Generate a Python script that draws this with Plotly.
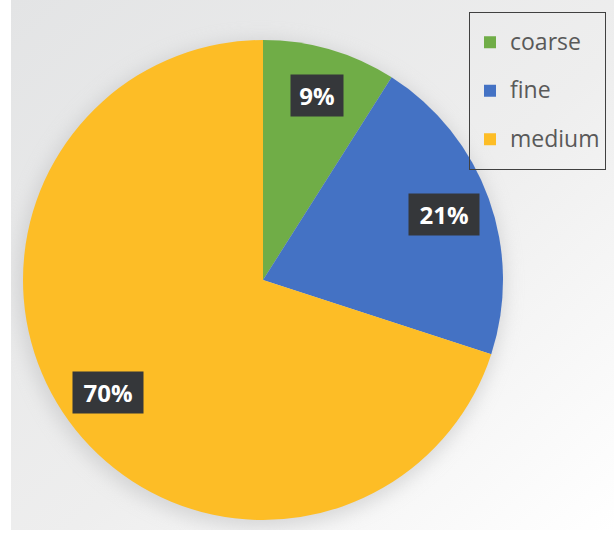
import base64
import math
import plotly.graph_objects as go

# data
categories = ["coarse", "fine", "medium"]
shares = [9, 21, 70]
colors = ["#70ad47", "#4472c4", "#fdbd26"]

W, H = 614, 539
CX, CY, R = 263, 280, 240  # pie centre and radius in pixels

# soft grey backdrop with a shadow under the pie
svg = f"""<svg xmlns='http://www.w3.org/2000/svg' width='603' height='530' viewBox='0 0 603 530'>
<defs>
<linearGradient id='g' x1='0' y1='0' x2='1' y2='1'>
<stop offset='0' stop-color='#e3e4e5'/><stop offset='0.55' stop-color='#eeeeee'/><stop offset='1' stop-color='#ffffff'/>
</linearGradient>
<filter id='b' x='-20%' y='-20%' width='140%' height='140%'><feGaussianBlur stdDeviation='9'/></filter>
</defs>
<rect width='603' height='530' fill='url(#g)'/>
<circle cx='{CX - 11 - 2}' cy='{CY + 4}' r='{R + 4}' fill='#bfc0c1' opacity='0.55' filter='url(#b)'/>
</svg>"""
bg_src = "data:image/svg+xml;base64," + base64.b64encode(svg.encode()).decode()

legend_labels = [f"<span style='font-size:23px;baseline-shift:6px'>{c}</span>" for c in categories]

fig = go.Figure(go.Pie(
    labels=legend_labels,
    values=shares,
    marker=dict(colors=colors, line=dict(width=0)),
    sort=False,
    direction="clockwise",
    rotation=0,
    textinfo="none",
    hovertemplate="%{label}: %{percent}<extra></extra>",
    domain=dict(x=[(CX - R) / W, (CX + R) / W], y=[1 - (CY + R) / H, 1 - (CY - R) / H]),
))

# dark label boxes at 0.8R on each slice's mid angle
total = sum(shares)
start = 0.0
for cat, v in zip(categories, shares):
    mid = (start + v / 2) / total * 2 * math.pi
    start += v
    px = CX + 0.8 * R * math.sin(mid)
    py = CY - 0.8 * R * math.cos(mid)
    pct = f"{round(v / total * 100)}%"
    fig.add_annotation(x=px / W, y=1 - py / H, xref="paper", yref="paper",
                       xanchor="center", yanchor="middle",
                       text=f"<b>{pct}</b>", showarrow=False, width=18 * len(pct) + 8,
                       bgcolor="#35373a", borderpad=4,
                       font=dict(family="Open Sans", size=24, color="white"))

fig.add_layout_image(dict(source=bg_src, xref="paper", yref="paper", x=11 / W, y=1,
                          sizex=603 / W, sizey=530 / H, sizing="stretch", layer="below"))

fig.update_layout(
    width=W, height=H,
    margin=dict(l=0, r=0, t=0, b=0),
    paper_bgcolor="white",
    plot_bgcolor="rgba(0,0,0,0)",
    showlegend=True,
    legend=dict(x=606 / W, y=1 - 12 / H, xanchor="right", yanchor="top",
                bgcolor="rgba(0,0,0,0)", bordercolor="#404040", borderwidth=1,
                font=dict(family="Open Sans", size=35, color="#595959"),
                itemclick=False),
)

fig.write_html("out.html", config={"displayModeBar": False},
               post_script="document.body.style.margin='0';")
